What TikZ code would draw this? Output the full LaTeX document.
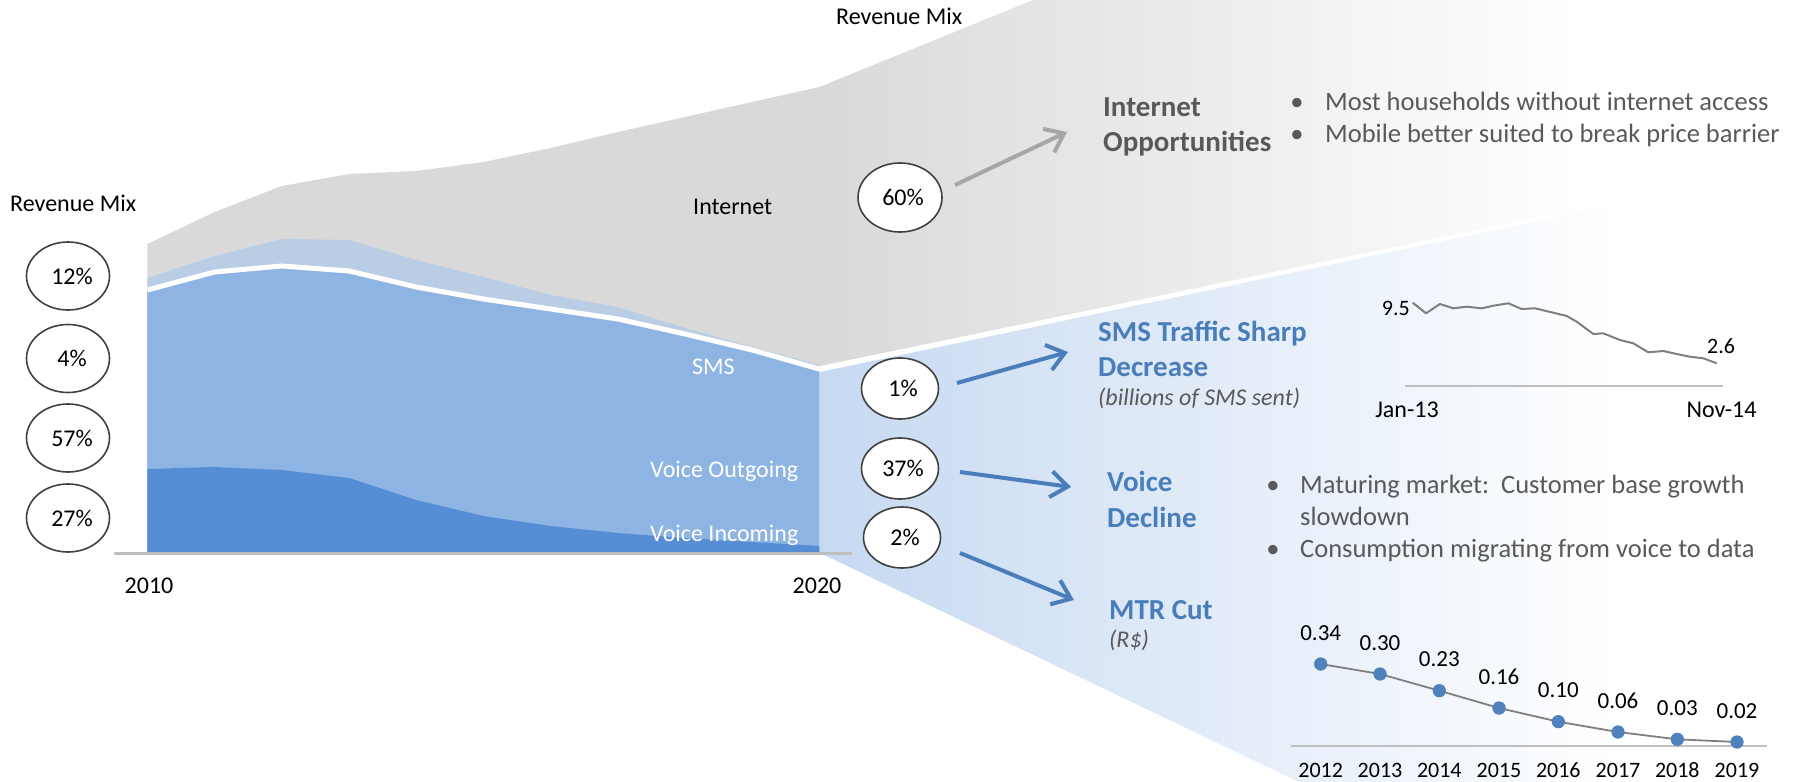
\documentclass[tikz,border=0pt]{standalone}
\usepackage{fontspec}
\setmainfont{Carlito}
\usetikzlibrary{shapes.geometric,arrows.meta}
\definecolor{greyfill}{HTML}{D9D9D9}
\definecolor{smsfill}{HTML}{B9CDE5}
\definecolor{vofill}{HTML}{8EB4E3}
\definecolor{vifill}{HTML}{558ED5}
\definecolor{fanblue}{HTML}{C6D9F1}
\definecolor{textgrey}{HTML}{595959}
\definecolor{titleblue}{HTML}{4A7EBB}
\definecolor{arrowgrey}{HTML}{A6A6A6}
\definecolor{sparkgrey}{HTML}{7F7F7F}
\definecolor{axisgrey}{HTML}{BFBFBF}
\definecolor{ellline}{HTML}{404040}
\definecolor{ptblue}{HTML}{4F81BD}
\begin{document}
\begin{tikzpicture}[x=1pt,y=-1pt,
  pct/.style={ellipse,draw=ellline,line width=1.6pt,fill=white,inner sep=0pt,minimum width=83pt,minimum height=68pt,font=\fontsize{24}{28}\selectfont},
  pctsm/.style={pct,minimum width=77pt,minimum height=61pt},
  txt/.style={inner sep=0pt,anchor=base west,font=\fontsize{24}{28}\selectfont},
  wtxt/.style={txt,text=white},
  head/.style={inner sep=0pt,anchor=base west,font=\fontsize{29}{35}\selectfont\bfseries,text=titleblue},
  ghead/.style={head,text=textgrey},
  note/.style={inner sep=0pt,anchor=base west,font=\fontsize{24}{28}\selectfont\itshape,text=textgrey},
  bul/.style={inner sep=0pt,anchor=base west,font=\fontsize{26.5}{32}\selectfont,text=textgrey},
  dotb/.style={inner sep=0pt,anchor=base,font=\fontsize{26.5}{32}\selectfont,text=textgrey},
  small/.style={inner sep=0pt,anchor=base,font=\fontsize{23}{27}\selectfont},
  barrow/.style={draw=titleblue,line width=4pt,-{Straight Barb[length=17pt,width=26pt]}},
  garrow/.style={barrow,draw=arrowgrey},
  mpt/.style={circle,fill=ptblue,inner sep=0pt,minimum size=13pt},
]
\useasboundingbox (0,0) rectangle (1800,782);

% ---------- fans ----------
\begin{scope}
  \clip (812,90) -- (1033,0) -- (1800,0) -- (1800,163) -- (820,366) -- (812,366) -- cycle;
  \shade[left color=greyfill,right color=white] (819,0) rectangle (1580,400);
  \fill[greyfill] (810,0) rectangle (819.5,400);
\end{scope}
\begin{scope}
  \clip (820,372) -- (1800,166) -- (1800,782) -- (1299,782) -- (820,553) -- cycle;
  \shade[left color=fanblue,right color=white] (819,160) rectangle (1620,782);
\end{scope}

% ---------- stacked area chart ----------
\fill[greyfill] (147.4,553) -- (147.4,244) -- (214.6,212) -- (281.8,186) -- (349,174) -- (416.2,171) -- (483.4,162) -- (550.6,148) -- (617.8,132) -- (685,117) -- (752.2,102) -- (819.4,87) -- (819.4,553) -- cycle;
\fill[smsfill] (147.4,553) -- (147.4,278) -- (214.6,256) -- (281.8,239) -- (349,240) -- (416.2,260) -- (483.4,277) -- (550.6,295) -- (617.8,307) -- (685,328) -- (752.2,347) -- (819.4,365) -- (819.4,553) -- cycle;
\fill[vofill] (147.4,553) -- (147.4,290) -- (214.6,272) -- (281.8,266) -- (349,271) -- (416.2,287) -- (483.4,299) -- (550.6,309) -- (617.8,319) -- (685,334) -- (752.2,350) -- (819.4,369) -- (819.4,553) -- cycle;
\draw[white,line width=5pt] (147.4,290) -- (214.6,272) -- (281.8,266) -- (349,271) -- (416.2,287) -- (483.4,299) -- (550.6,309) -- (617.8,319) -- (685,334) -- (752.2,350) -- (821,369.5);
\fill[vifill] (147.4,553) -- (147.4,469) -- (214.6,467) -- (281.8,470) -- (349,478) -- (416.2,500) -- (483.4,516) -- (550.6,526) -- (617.8,533) -- (685,538) -- (752.2,542) -- (819.4,546) -- (819.4,553) -- cycle;
\draw[axisgrey,line width=3pt] (114,553) -- (852,553);

% chart labels
\node[txt] (lblinternet) at (693,214) {Internet};
\node[wtxt] (lblsms) at (692,374) {SMS};
\node[wtxt] (lblvo) at (650,477) {Voice Outgoing};
\node[wtxt] (lblvi) at (650,541) {Voice Incoming};
\node[small,font=\fontsize{24}{28}\selectfont] (y2010) at (149,593) {2010};
\node[small,font=\fontsize{24}{28}\selectfont] (y2020) at (817,593) {2020};

% ---------- left revenue mix ----------
\node[txt] (rmleft) at (10,211) {Revenue Mix};
\node[pct] (l12) at (68,276) {\hspace*{8pt}12\%};
\node[pct] (l4) at (68,358.5) {\hspace*{8pt}4\%};
\node[pct] (l57) at (68,438) {\hspace*{8pt}57\%};
\node[pct] (l27) at (68,518) {\hspace*{8pt}27\%};

% ---------- right revenue mix ----------
\node[txt] (rmright) at (836,24) {Revenue Mix};
\node[pct,minimum width=84pt,minimum height=69pt] (r60) at (900,197.5) {\hspace*{6pt}60\%};
\node[pctsm] (r1) at (900,388.5) {\hspace*{6pt}1\%};
\node[pctsm] (r37) at (900,468.5) {\hspace*{6pt}37\%};
\node[pctsm] (r2) at (902,537.5) {\hspace*{6pt}2\%};

% ---------- headings ----------
\node[ghead] (hint1) at (1103,116) {Internet};
\node[ghead] (hint2) at (1103,151) {Opportunities};
\node[head] (hsms1) at (1098,341) {SMS Traffic Sharp};
\node[head] (hsms2) at (1098,376) {Decrease};
\node[note] (nsms) at (1098,405) {(billions of SMS sent)};
\node[head] (hv1) at (1107,491) {Voice};
\node[head] (hv2) at (1107,527) {Decline};
\node[head] (hmtr) at (1109,619) {MTR Cut};
\node[note] (nmtr) at (1109,647) {(R\$)};

% ---------- arrows ----------
\coordinate (ga0) at (955,185); \coordinate (ga1) at (1067,132);
\coordinate (b1s) at (957,383); \coordinate (b1e) at (1068,352);
\coordinate (b2s) at (960,472); \coordinate (b2e) at (1071,487);
\coordinate (b3s) at (960,553); \coordinate (b3e) at (1074,600);
\draw[garrow] (ga0) -- (ga1);
\draw[barrow] (b1s) -- (b1e);
\draw[barrow] (b2s) -- (b2e);
\draw[barrow] (b3s) -- (b3e);

% ---------- bullets ----------
\node[dotb] (d1) at (1297,110) {•};
\node[bul] (t1) at (1325,110) {Most households without internet access};
\node[dotb] (d2) at (1297,142) {•};
\node[bul] (t2) at (1325,142) {Mobile better suited to break price barrier};
\node[dotb] (d3) at (1273,493) {•};
\node[bul] (t3) at (1300,493) {Maturing market:\ \ Customer base growth};
\node[bul] (t3b) at (1300,525) {slowdown};
\node[dotb] (d4) at (1273,557) {•};
\node[bul] (t4) at (1300,557) {Consumption migrating from voice to data};

% ---------- SMS sparkline ----------
\draw[sparkgrey,line width=2pt,line join=round] (1412.7,302.7) -- (1426,313.3) -- (1440,304) -- (1453.3,308.3) -- (1466.7,306.7) -- (1481.7,308.3) -- (1493.3,305.7) -- (1508.3,303.3) -- (1521.7,309) -- (1535,308.3) -- (1553.3,312.7) -- (1566.7,316) -- (1576.7,321.7) -- (1593.3,334) -- (1603.3,333.3) -- (1620,340) -- (1633.3,343.3) -- (1648.3,352.3) -- (1663.3,351) -- (1676.7,354) -- (1690,356.7) -- (1703.3,358.3) -- (1716.7,363.3);
\draw[axisgrey,line width=2.5pt] (1405,386) -- (1723,386);
\node[small,anchor=base east,font=\fontsize{22}{26}\selectfont] (s95) at (1410,315) {9.5};
\node[small,anchor=base west,font=\fontsize{22}{26}\selectfont] (s26) at (1707,353) {2.6};
\node[small,font=\fontsize{24}{28}\selectfont] (sjan) at (1407,417) {Jan-13};
\node[small,font=\fontsize{24}{28}\selectfont] (snov) at (1721.5,417) {Nov-14};

% ---------- MTR chart ----------
\draw[axisgrey,line width=2.5pt] (1291,746) -- (1767,746);
\foreach \i/\x/\y/\v/\yr in {1/1320.7/664/0.34/2012, 2/1380/674/0.30/2013, 3/1439.3/690.7/0.23/2014, 4/1499/708/0.16/2015, 5/1558.3/721.7/0.10/2016, 6/1618/732/0.06/2017, 7/1677.3/739.3/0.03/2018, 8/1737/742/0.02/2019}{
  \node[mpt] (m\i) at (\x,\y) {};
  \node[small] (mv\i) at (\x,\y-24) {\v};
  \node[small,font=\fontsize{22}{26}\selectfont] (my\i) at (\x,777) {\yr};
}
\draw[sparkgrey,line width=1.8pt] (m1.center) -- (m2.center) -- (m3.center) -- (m4.center) -- (m5.center) -- (m6.center) -- (m7.center) -- (m8.center);
\foreach \i in {1,...,8}{
  \fill[ptblue] (m\i) circle[radius=6.5pt];
}
\end{tikzpicture}
\end{document}
